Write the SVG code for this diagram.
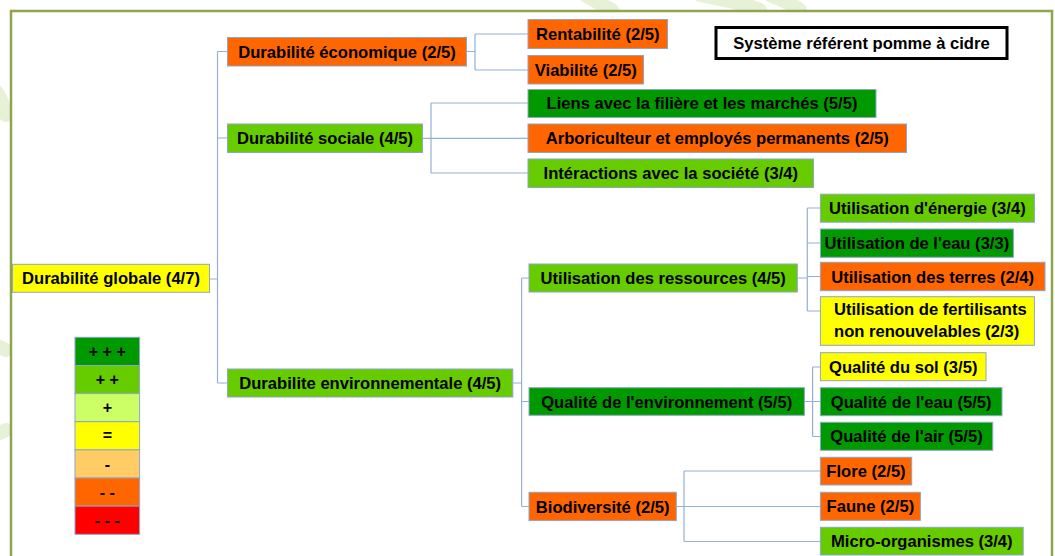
<svg xmlns="http://www.w3.org/2000/svg" width="1055" height="556" viewBox="0 0 1055 556">
<style>
.bg{fill:none;stroke:#e6f1d8;stroke-width:14;stroke-linecap:round}
.frame{fill:#ffffff;stroke:#8fa54c;stroke-width:2.5}
.box{stroke:#8ea6c9;stroke-width:1}
.o{fill:#ff6600}.lg{fill:#66cc00}.dg{fill:#009900}.y{fill:#ffff00}
.t{font-family:"Liberation Sans",Arial,sans-serif;font-weight:bold;font-size:16.6px;fill:#000;text-anchor:middle}
.tl{font-family:"Liberation Sans",Arial,sans-serif;font-weight:bold;font-size:16.6px;fill:#000}
.lt{font-family:"Liberation Sans",Arial,sans-serif;font-weight:bold;font-size:16px;fill:#000;text-anchor:middle}
.c{fill:none;stroke:#95b0d5;stroke-width:1.2}
.leg{stroke:#8ea6c9;stroke-width:1}
</style>
<rect x="0" y="0" width="1055" height="556" fill="#ffffff"/>
<g id="background">
<path class="bg" d="M585 -5 Q600 4 612 10"/>
<path class="bg" d="M700 -5 Q740 2 760 10"/>
<path class="bg" d="M770 -5 Q790 3 800 10"/>
<path class="bg" d="M-5 90 Q3 100 6 115" stroke-width="8"/>
<path class="bg" d="M-5 345 Q2 348 6 350" stroke-width="8"/>
<path class="bg" d="M-5 435 Q2 432 6 430" stroke-width="6"/>
</g>
<rect class="frame" x="11" y="11" width="1041" height="570"/>
<g id="connectors">
<path class="c" d="M209.6 279H217.5M217.5 51.5V383M217.5 51.5H227.5M217.5 138H227.5M217.5 383H227.5"/>
<path class="c" d="M466.5 51.5H475M475 34V70M475 34H528M475 70H528"/>
<path class="c" d="M422.6 138.3H431M431 103V173M431 103H528M431 138.3H528M431 173H528"/>
<path class="c" d="M512.8 383H521.6M521.6 278V506.5M521.6 278H529M521.6 401.5H529M521.6 506.5H529"/>
<path class="c" d="M797.3 278H807.3M807.3 208V311M807.3 208H820.4M807.3 243H820.4M807.3 276.5H820.4M807.3 311H820.4"/>
<path class="c" d="M804.4 401.5H812.6M812.6 367V436.5M812.6 367H820.4M812.6 401.5H820.4M812.6 436.5H820.4"/>
<path class="c" d="M676.3 506.5H684M684 471V541.5M684 471H820.4M684 506.5H820.4M684 541.5H820.4"/>
</g>
<g id="n-globale"><rect class="box y" x="12.5" y="264.3" width="197" height="28"/><text class="t" x="111" y="284.3">Durabilité globale (4/7)</text></g>
<g id="n-economique"><rect class="box o" x="227.5" y="37.5" width="239" height="28.5"/><text class="t" x="347" y="57.5">Durabilité économique (2/5)</text></g>
<g id="n-sociale"><rect class="box lg" x="227.5" y="124" width="195" height="28.5"/><text class="t" x="325" y="144">Durabilité sociale (4/5)</text></g>
<g id="n-environnementale"><rect class="box lg" x="227.5" y="369" width="285.3" height="28"/><text class="t" x="370.2" y="389">Durabilite environnementale (4/5)</text></g>
<g id="n-rentabilite"><rect class="box o" x="528" y="19.5" width="139.5" height="29"/><text class="t" x="597.8" y="39.8">Rentabilité (2/5)</text></g>
<g id="n-viabilite"><rect class="box o" x="528" y="55.5" width="115.5" height="28.5"/><text class="t" x="585.8" y="75.6">Viabilité (2/5)</text></g>
<g id="n-liens"><rect class="box dg" x="528" y="89.5" width="348" height="28"/><text class="t" x="702" y="109.3">Liens avec la filière et les marchés (5/5)</text></g>
<g id="n-arboriculteur"><rect class="box o" x="528" y="124" width="378.5" height="28.5"/><text class="t" x="717.3" y="144">Arboriculteur et employés permanents (2/5)</text></g>
<g id="n-interactions"><rect class="box lg" x="528" y="159" width="285.5" height="28.5"/><text class="t" x="670.8" y="179">Intéractions avec la société (3/4)</text></g>
<g id="n-ressources"><rect class="box lg" x="529" y="264" width="268.3" height="28"/><text class="t" x="663.2" y="284">Utilisation des ressources (4/5)</text></g>
<g id="n-qualite-env"><rect class="box dg" x="529" y="387.7" width="275.4" height="27.6"/><text class="t" x="666.7" y="407.5">Qualité de l'environnement (5/5)</text></g>
<g id="n-biodiversite"><rect class="box o" x="529" y="492.3" width="147.3" height="28.3"/><text class="t" x="602.7" y="512.5">Biodiversité (2/5)</text></g>
<g id="n-energie"><rect class="box lg" x="820.4" y="194.2" width="214" height="28"/><text class="t" x="927.4" y="214.2">Utilisation d'énergie (3/4)</text></g>
<g id="n-eau"><rect class="box dg" x="820.4" y="229" width="193" height="28.3"/><text class="t" x="916.9" y="249.1">Utilisation de l'eau (3/3)</text></g>
<g id="n-terres"><rect class="box o" x="820.4" y="262.3" width="224.6" height="28.4"/><text class="t" x="932.7" y="282.5">Utilisation des terres (2/4)</text></g>
<g id="n-fertilisants"><rect class="box y" x="820.4" y="296.7" width="214" height="48.6"/><text class="tl" x="834" y="314.5">Utilisation de fertilisants</text><text class="tl" x="834" y="336.5">non renouvelables (2/3)</text></g>
<g id="n-sol"><rect class="box y" x="820.4" y="352.7" width="165.6" height="28"/><text class="t" x="903.2" y="372.7">Qualité du sol (3/5)</text></g>
<g id="n-qeau"><rect class="box dg" x="820.4" y="387.7" width="181.6" height="28"/><text class="t" x="911.2" y="407.7">Qualité de l'eau (5/5)</text></g>
<g id="n-air"><rect class="box dg" x="820.4" y="422.3" width="172.3" height="28"/><text class="t" x="906.5" y="442.3">Qualité de l'air (5/5)</text></g>
<g id="n-flore"><rect class="box o" x="820.4" y="457.3" width="91.3" height="27.7"/><text class="t" x="866" y="477.2">Flore (2/5)</text></g>
<g id="n-faune"><rect class="box o" x="820.4" y="492.3" width="100" height="28"/><text class="t" x="870.4" y="512.3">Faune (2/5)</text></g>
<g id="n-micro"><rect class="box lg" x="820.4" y="527.3" width="202.8" height="27.7"/><text class="t" x="921.8" y="547.2">Micro-organismes (3/4)</text></g>
<g id="n-systeme"><rect x="716" y="27.5" width="291" height="31" fill="#ffffff" stroke="#000" stroke-width="3"/><text class="t" x="861.5" y="49">Système référent pomme à cidre</text></g>
<g id="legend">
<rect class="leg" x="75" y="337.3" width="64.6" height="28.2" fill="#009900"/><text class="lt" x="107.3" y="357">+ + +</text>
<rect class="leg" x="75" y="365.5" width="64.6" height="28.1" fill="#66cc00"/><text class="lt" x="107.3" y="385.1">+ +</text>
<rect class="leg" x="75" y="393.6" width="64.6" height="28.1" fill="#ccff66"/><text class="lt" x="107.3" y="413.2">+</text>
<rect class="leg" x="75" y="421.7" width="64.6" height="28.2" fill="#ffff00"/><text class="lt" x="107.3" y="441.4">=</text>
<rect class="leg" x="75" y="449.9" width="64.6" height="28.1" fill="#ffcc66"/><text class="lt" x="107.3" y="469.5">-</text>
<rect class="leg" x="75" y="478" width="64.6" height="28.1" fill="#ff6600"/><text class="lt" x="107.3" y="497.6">- -</text>
<rect class="leg" x="75" y="506.1" width="64.6" height="28.2" fill="#ff0000"/><text class="lt" x="107.3" y="525.8">- - -</text>
</g>
</svg>
